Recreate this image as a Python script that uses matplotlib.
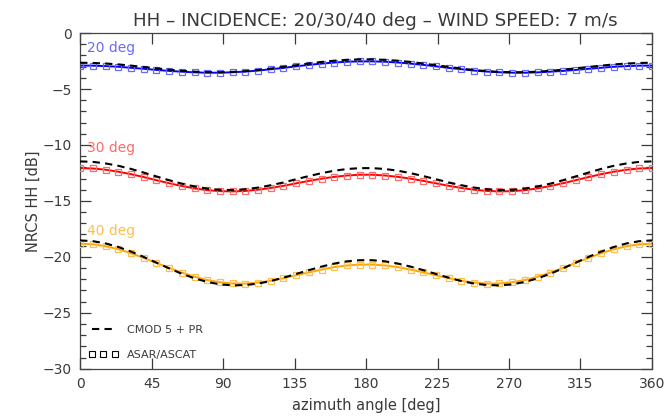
import matplotlib

matplotlib.use("Agg")
import matplotlib.pyplot as plt
from matplotlib.lines import Line2D
from matplotlib.ticker import MultipleLocator

# azimuth sampling of the curves (deg)
azimuth = list(range(0, 361, 8))

# 20 deg incidence
asar_20 = [-2.90, -2.91, -2.95, -3.01, -3.10, -3.19, -3.29, -3.38, -3.45, -3.51, -3.54, -3.54,
           -3.50, -3.44, -3.35, -3.23, -3.11, -2.97, -2.84, -2.73, -2.63, -2.56, -2.53,
           -2.53, -2.56, -2.63, -2.73, -2.84, -2.97, -3.11, -3.23, -3.35, -3.44, -3.50,
           -3.54, -3.54, -3.51, -3.45, -3.38, -3.29, -3.19, -3.10, -3.01, -2.95, -2.91, -2.90]
cmod_20 = [-2.65, -2.67, -2.72, -2.80, -2.91, -3.03, -3.15, -3.27, -3.37, -3.45, -3.49, -3.50,
           -3.47, -3.40, -3.30, -3.17, -3.02, -2.87, -2.72, -2.58, -2.47, -2.39, -2.35,
           -2.35, -2.39, -2.47, -2.58, -2.72, -2.87, -3.02, -3.17, -3.30, -3.40, -3.47,
           -3.50, -3.49, -3.45, -3.37, -3.27, -3.15, -3.03, -2.91, -2.80, -2.72, -2.67, -2.65]

# 30 deg incidence
asar_30 = [-12.07, -12.10, -12.21, -12.39, -12.61, -12.87, -13.15, -13.42, -13.67, -13.88,
           -14.04, -14.13, -14.15, -14.11, -14.00, -13.84, -13.65, -13.43, -13.21, -13.01,
           -12.85, -12.73, -12.66,
           -12.66, -12.73, -12.85, -13.01, -13.21, -13.43, -13.65, -13.84, -14.00, -14.11,
           -14.15, -14.13, -14.04, -13.88, -13.67, -13.42, -13.15, -12.87, -12.61, -12.39,
           -12.21, -12.10, -12.07]
cmod_30 = [-11.47, -11.51, -11.65, -11.86, -12.14, -12.47, -12.81, -13.15, -13.46, -13.71,
           -13.90, -14.01, -14.03, -13.96, -13.81, -13.60, -13.35, -13.06, -12.78, -12.52,
           -12.30, -12.15, -12.07,
           -12.07, -12.15, -12.30, -12.52, -12.78, -13.06, -13.35, -13.60, -13.81, -13.96,
           -14.03, -14.01, -13.90, -13.71, -13.46, -13.15, -12.81, -12.47, -12.14, -11.86,
           -11.65, -11.51, -11.47]

# 40 deg incidence
asar_40 = [-18.82, -18.88, -19.05, -19.32, -19.68, -20.10, -20.54, -20.99, -21.41, -21.78,
           -22.07, -22.27, -22.38, -22.39, -22.30, -22.14, -21.91, -21.65, -21.39, -21.14,
           -20.92, -20.77, -20.69,
           -20.69, -20.77, -20.92, -21.14, -21.39, -21.65, -21.91, -22.14, -22.30, -22.39,
           -22.38, -22.27, -22.07, -21.78, -21.41, -20.99, -20.54, -20.10, -19.68, -19.32,
           -19.05, -18.88, -18.82]
cmod_40 = [-18.53, -18.60, -18.80, -19.12, -19.53, -20.01, -20.52, -21.03, -21.51, -21.92,
           -22.24, -22.46, -22.55, -22.52, -22.39, -22.16, -21.86, -21.53, -21.19, -20.87,
           -20.60, -20.40, -20.30,
           -20.30, -20.40, -20.60, -20.87, -21.19, -21.53, -21.86, -22.16, -22.39, -22.52,
           -22.55, -22.46, -22.24, -21.92, -21.51, -21.03, -20.52, -20.01, -19.53, -19.12,
           -18.80, -18.60, -18.53]

incidences = ["20 deg", "30 deg", "40 deg"]
label_pos = [(4, -1.3), (4, -10.3), (4, -17.7)]

series = [
    (asar_20, cmod_20, "#0000ff", "#6a6aff"),
    (asar_30, cmod_30, "#ff0000", "#ff6a6a"),
    (asar_40, cmod_40, "#ffa500", "#ffbf50"),
]

text_color = "#3a3a3a"
plt.rcParams["font.family"] = ["DejaVu Sans"]

fig = plt.figure(figsize=(6.68, 4.19), dpi=100)
ax = fig.add_axes([0.120, 0.120, 0.856, 0.801])

for (asar, cmod, line_col, mark_col), name, (tx, ty) in zip(series, incidences, label_pos):
    ax.plot(azimuth, asar, color=line_col, lw=1.4, zorder=2)
    ax.plot(azimuth, asar, ls="none", marker="s", ms=4.2, mfc="none", mec=mark_col, mew=0.9, zorder=3)
    ax.plot(azimuth, cmod, color="black", lw=1.5, ls=(0, (3.5, 2.5)), zorder=4)
    ax.text(tx, ty, name, color=mark_col, fontsize=10, ha="left", va="center")

ax.set_xlim(0, 360)
ax.set_ylim(-30, 0)
ax.xaxis.set_major_locator(MultipleLocator(45))
ax.yaxis.set_major_locator(MultipleLocator(5))
ax.yaxis.set_minor_locator(MultipleLocator(1))
ax.tick_params(which="both", direction="in", top=True, right=True, colors=text_color,
               labelsize=10, width=0.9)
ax.tick_params(which="major", length=8, pad=6)
ax.tick_params(which="minor", length=4)
for spine in ax.spines.values():
    spine.set_color("#444444")
    spine.set_linewidth(0.9)

ax.set_xlabel("azimuth angle [deg]", color=text_color, fontsize=10.5, labelpad=5)
ax.set_ylabel("NRCS HH [dB]", color=text_color, fontsize=10.5, labelpad=1)
ax.set_title("HH \u2013 INCIDENCE: 20/30/40 deg \u2013 WIND SPEED: 7 m/s",
             color=text_color, fontsize=13.2, pad=5, x=0.517)

handles = [
    Line2D([], [], color="black", lw=1.5, ls=(0, (3.5, 2.5))),
    Line2D([], [], ls="none", marker="s", ms=4, mfc="none", mec="black", mew=0.8),
]
leg = ax.legend(handles, ["CMOD 5 + PR", "ASAR/ASCAT"], loc="lower left", frameon=False,
                fontsize=8, numpoints=3, handlelength=2.6, labelspacing=1.3,
                borderaxespad=0.4, handletextpad=0.8)
for t in leg.get_texts():
    t.set_color(text_color)

fig.savefig("out.png", dpi=100)
